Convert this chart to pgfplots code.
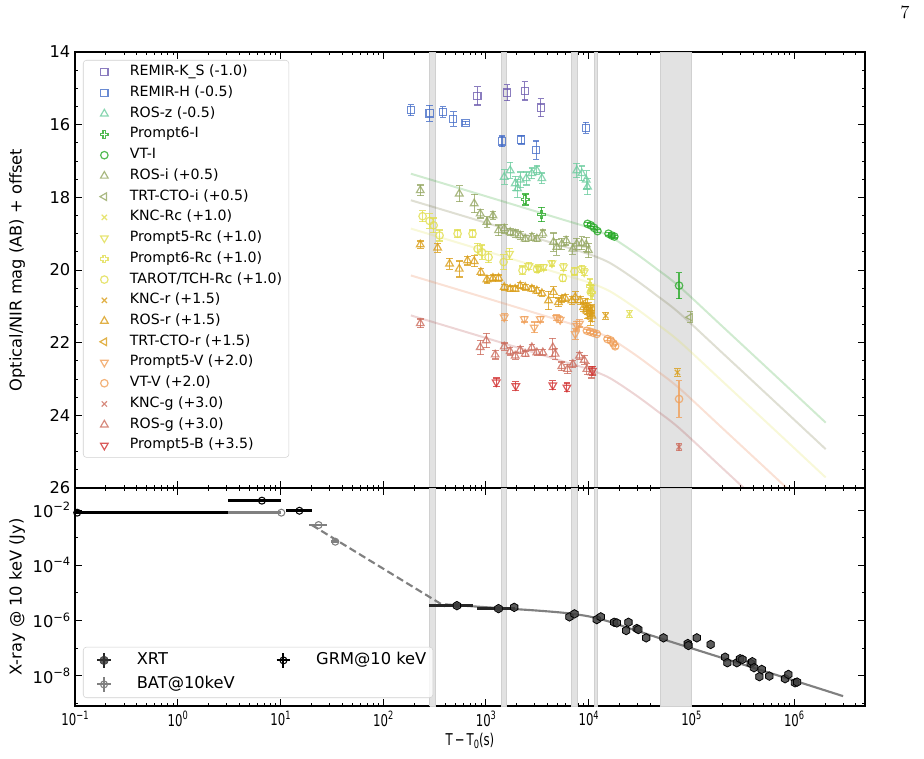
\documentclass[border=0pt]{standalone}
\usepackage{fontspec}
\setsansfont{DejaVu Sans}
\usepackage{pgfplots}
\pgfplotsset{compat=1.18}

\definecolor{cKS}{RGB}{110,92,175}
\definecolor{cH}{RGB}{70,110,200}
\definecolor{cZ}{RGB}{110,205,160}
\definecolor{cI}{RGB}{40,170,40}
\definecolor{cOl}{RGB}{150,168,100}
\definecolor{cRc}{RGB}{225,222,80}
\definecolor{cR}{RGB}{218,158,25}
\definecolor{cV}{RGB}{240,160,90}
\definecolor{cG}{RGB}{205,110,95}
\definecolor{cB}{RGB}{210,50,50}
\definecolor{band}{RGB}{226,226,226}
\definecolor{bandedge}{RGB}{208,208,208}
\definecolor{mG}{RGB}{60,170,60}
\definecolor{mO}{RGB}{120,120,70}
\definecolor{mY}{RGB}{225,225,90}
\definecolor{mR}{RGB}{235,130,80}
\definecolor{mB}{RGB}{180,80,80}

\pgfdeclareplotmark{hexa}{%
 \pgfpathmoveto{\pgfqpointpolar{90}{\pgfplotmarksize}}%
 \pgfpathlineto{\pgfqpointpolar{150}{\pgfplotmarksize}}%
 \pgfpathlineto{\pgfqpointpolar{210}{\pgfplotmarksize}}%
 \pgfpathlineto{\pgfqpointpolar{270}{\pgfplotmarksize}}%
 \pgfpathlineto{\pgfqpointpolar{330}{\pgfplotmarksize}}%
 \pgfpathlineto{\pgfqpointpolar{30}{\pgfplotmarksize}}%
 \pgfpathclose\pgfusepathqfillstroke}
\pgfdeclareplotmark{Pout}{%
 \pgfpathmoveto{\pgfqpoint{0.35\pgfplotmarksize}{\pgfplotmarksize}}%
 \pgfpathlineto{\pgfqpoint{-0.35\pgfplotmarksize}{\pgfplotmarksize}}%
 \pgfpathlineto{\pgfqpoint{-0.35\pgfplotmarksize}{0.35\pgfplotmarksize}}%
 \pgfpathlineto{\pgfqpoint{-\pgfplotmarksize}{0.35\pgfplotmarksize}}%
 \pgfpathlineto{\pgfqpoint{-\pgfplotmarksize}{-0.35\pgfplotmarksize}}%
 \pgfpathlineto{\pgfqpoint{-0.35\pgfplotmarksize}{-0.35\pgfplotmarksize}}%
 \pgfpathlineto{\pgfqpoint{-0.35\pgfplotmarksize}{-\pgfplotmarksize}}%
 \pgfpathlineto{\pgfqpoint{0.35\pgfplotmarksize}{-\pgfplotmarksize}}%
 \pgfpathlineto{\pgfqpoint{0.35\pgfplotmarksize}{-0.35\pgfplotmarksize}}%
 \pgfpathlineto{\pgfqpoint{\pgfplotmarksize}{-0.35\pgfplotmarksize}}%
 \pgfpathlineto{\pgfqpoint{\pgfplotmarksize}{0.35\pgfplotmarksize}}%
 \pgfpathlineto{\pgfqpoint{0.35\pgfplotmarksize}{0.35\pgfplotmarksize}}%
 \pgfpathclose\pgfusepathqstroke}

\newcommand{\tp}[1]{10\raisebox{0.42em}{\fontsize{8.6}{9}\selectfont #1}}
\newcommand{\lblfont}{\sffamily\fontsize{12.2}{14}\selectfont}

\pgfplotsset{
 ser/.style={only marks, color=#1, mark size=2.8pt, line width=0.9pt, opacity=0.8,
   error bars/y dir=both, error bars/y explicit,
   error bars/error bar style={line width=0.9pt, solid},
   error bars/error mark options={rotate=90, mark size=2.5pt, line width=0.9pt}},
 mdl/.style={no marks, line width=1.5pt, opacity=0.24, color=#1, forget plot, smooth},
 bnd/.style={fill=band, draw=bandedge, line width=0.6pt, forget plot, no marks},
}

\begin{document}
\begin{tikzpicture}[font=\sffamily]
\path[use as bounding box] (0,0) rectangle (693pt,568.5pt);
\node[font=\rmfamily\fontsize{14}{16}\selectfont] at (678.75pt,559.5pt) {7};

% ---------------- top panel ----------------
\begin{axis}[at={(56.25pt,202.5pt)}, anchor=south west,
 scale only axis, width=592.5pt, height=327pt,
 xmode=log, xmin=0.1, xmax=4.9e6,
 xtick={1e-1,1,10,100,1000,1e4,1e5,1e6},
 minor xtick={0.2,0.3,0.4,0.5,0.6,0.7,0.8,0.9,2,3,4,5,6,7,8,9,20,30,40,50,60,70,80,90,200,300,400,500,600,700,800,900,2000,3000,4000,5000,6000,7000,8000,9000,2e4,3e4,4e4,5e4,6e4,7e4,8e4,9e4,2e5,3e5,4e5,5e5,6e5,7e5,8e5,9e5,2e6,3e6,4e6},
 tick pos=both, tick align=inside,
 major tick length=4.9pt, minor tick length=2.5pt,
 every tick/.style={black, line width=0.7pt},
 axis line style={line width=0.9pt},
 /pgf/number format/assume math mode=true,
 tick label style={font=\lblfont},
 label style={font=\lblfont},
 legend cell align=left,
 ymin=14, ymax=26, y dir=reverse,
 ytick={14,16,18,20,22,24,26}, minor y tick num=3,
 xticklabel=\empty,
 ylabel={Optical/NIR mag (AB) + offset},
 ylabel style={at={(axis description cs:-0.0734,0.5)}, anchor=center},
 legend image code/.code={\path (0cm,0cm) (0.8cm,0cm); \draw[#1] plot coordinates {(0.4cm,0cm)};},
 legend style={at={(0.0101,0.9817)}, anchor=north west, font=\sffamily\fontsize{10.6}{12}\selectfont,
   draw=black!18, rounded corners=2.5pt, fill=white, fill opacity=0.8, text opacity=1,
   inner xsep=4pt, inner ysep=3pt, row sep=3.55pt,
   nodes={inner sep=1pt, text height=7.6pt, text depth=2.4pt},
   /tikz/every odd column/.append style={column sep=6.3pt}},
]
% shaded intervals
\addplot[bnd] coordinates {(283,14) (322,14) (322,26) (283,26) (283,14)};
\addplot[bnd] coordinates {(1410,14) (1600,14) (1600,26) (1410,26) (1410,14)};
\addplot[bnd] coordinates {(6750,14) (7800,14) (7800,26) (6750,26) (6750,14)};
\addplot[bnd] coordinates {(11300,14) (12100,14) (12100,26) (11300,26) (11300,14)};
\addplot[bnd] coordinates {(5e4,14) (1e5,14) (1e5,26) (5e4,26) (5e4,14)};
% model curves
\addplot[mdl=mG] coordinates {(186,17.35) (1000,17.97) (5000,18.57) (1e4,18.83) (1.5e4,19.03) (2e4,19.24) (3e4,19.58) (4.5e4,19.95) (7.6e4,20.45) (2e5,21.55) (7e5,22.98) (2.03e6,24.20)};
\addplot[mdl=mO] coordinates {(186,18.08) (1000,18.70) (5000,19.30) (1e4,19.56) (1.5e4,19.76) (2e4,19.97) (3e4,20.31) (4.5e4,20.68) (7.6e4,21.18) (2e5,22.28) (7e5,23.71) (2.03e6,24.93)};
\addplot[mdl=mY] coordinates {(186,18.86) (1000,19.48) (5000,20.08) (1e4,20.34) (1.5e4,20.54) (2e4,20.75) (3e4,21.09) (4.5e4,21.46) (7.6e4,21.96) (2e5,23.06) (7e5,24.49) (2.03e6,25.71)};
\addplot[mdl=mR] coordinates {(186,20.15) (1000,20.77) (5000,21.37) (1e4,21.63) (1.5e4,21.83) (2e4,22.04) (3e4,22.38) (4.5e4,22.75) (7.6e4,23.25) (2e5,24.35) (7e5,25.78) (2.03e6,27.00)};
\addplot[mdl=mB] coordinates {(186,21.25) (1000,21.87) (5000,22.47) (1e4,22.73) (1.5e4,22.93) (2e4,23.14) (3e4,23.48) (4.5e4,23.85) (7.6e4,24.35) (2e5,25.45) (7e5,26.88) (2.03e6,28.10)};

% data
\addplot[ser=cKS, mark=square, mark size=2.7pt] coordinates {(828,15.21) +- (0,0.25) (1610,15.12) +- (0,0.22) (2393,15.07) +- (0,0.25) (3428,15.53) +- (0,0.25)};
\addlegendentry{REMIR-K\_S (-1.0)}
\addplot[ser=cH, mark=square, mark size=2.7pt] coordinates {(186,15.60) +- (0,0.15) (283,15.69) +- (0,0.22) (381,15.65) +- (0,0.15) (481,15.84) +- (0,0.2) (634,15.95) +- (0,0.04) (1432,16.46) +- (0,0.15) (2205,16.41) +- (0,0.12) (3083,16.70) +- (0,0.25) (9397,16.09) +- (0,0.15)};
\addlegendentry{REMIR-H (-0.5)}
\addplot[ser=cZ, mark=triangle, mark size=3.3pt] coordinates {(1507,17.44) +- (0,0.2) (1722,17.26) +- (0,0.22) (1927,17.62) +- (0,0.2) (2032,17.76) +- (0,0.25) (2158,17.52) +- (0,0.22) (2466,17.48) +- (0,0.18) (2800,17.34) +- (0,0.15) (3133,17.26) +- (0,0.12) (3507,17.48) +- (0,0.15) (7674,17.26) +- (0,0.2) (8590,17.34) +- (0,0.2) (9461,17.52) +- (0,0.25) (9750,17.71) +- (0,0.22)};
\addlegendentry{ROS-z (-0.5)}
\addplot[ser=cI, mark=Pout] coordinates {(2411,18.06) +- (0,0.15) (3474,18.47) +- (0,0.2)};
\addlegendentry{Prompt6-I}
\addplot[ser=cI, mark=o] coordinates {(9750,18.73) +- (0,0.04) (10500,18.77) +- (0,0.04) (11300,18.84) +- (0,0.04) (12200,18.93) +- (0,0.04) (15600,19.00) +- (0,0.04) (16800,19.05) +- (0,0.04) (17800,19.08) +- (0,0.04) (75900,20.43) +- (0,0.36)};
\addlegendentry{VT-I}
\addplot[ser=cOl, mark=triangle, mark size=3.3pt] coordinates {(229.6,17.81) +- (0,0.15) (550,17.90) +- (0,0.22) (769,18.17) +- (0,0.25) (880,18.45) +- (0,0.12) (1023,18.68) +- (0,0.15) (1170,18.50) +- (0,0.1) (1328,18.91) +- (0,0.15) (1508,18.86) +- (0,0.12) (1723,18.96) +- (0,0.1) (1927,19.00) +- (0,0.1) (2158,19.05) +- (0,0.1) (2412,19.14) +- (0,0.08) (2800,19.09) +- (0,0.1) (3133,19.14) +- (0,0.08) (3583,19.00) +- (0,0.1) (4545,19.23) +- (0,0.25) (4900,19.37) +- (0,0.22) (5480,19.28) +- (0,0.15) (6040,19.19) +- (0,0.12) (7015,19.42) +- (0,0.15) (7670,19.28) +- (0,0.15) (8590,19.26) +- (0,0.18) (9460,19.30) +- (0,0.2) (9950,19.46) +- (0,0.2)};
\addlegendentry{ROS-i (+0.5)}
\addplot[ser=cOl, mark=triangle, mark size=3.3pt, mark options={rotate=90}] coordinates {(97300,21.30) +- (0,0.15)};
\addlegendentry{TRT-CTO-i (+0.5)}
\addplot[ser=cRc, mark=x] coordinates {(24900,21.21) +- (0,0.1)};
\addlegendentry{KNC-Rc (+1.0)}
\addplot[ser=cRc, mark=triangle, mark size=3.3pt, mark options={rotate=180}] coordinates {(1698,19.55) +- (0,0.15) (2620,19.89) +- (0,0.1) (3250,19.95) +- (0,0.1) (3640,19.92) +- (0,0.08) (4390,19.81) +- (0,0.08) (5690,19.92) +- (0,0.1) (8590,19.97) +- (0,0.1) (9050,20.06) +- (0,0.1)};
\addlegendentry{Prompt5-Rc (+1.0)}
\addplot[ser=cRc, mark=Pout] coordinates {(10300,20.45) +- (0,0.2) (10800,20.62) +- (0,0.2)};
\addlegendentry{Prompt6-Rc (+1.0)}
\addplot[ser=cRc, mark=o] coordinates {(242,18.52) +- (0,0.15) (283,18.65) +- (0,0.2) (310,18.77) +- (0,0.2) (354,19.05) +- (0,0.15) (530,19.00) +- (0,0.1) (741,19.00) +- (0,0.1) (830,19.42) +- (0,0.15) (915,19.51) +- (0,0.2) (1062,19.65) +- (0,0.15) (1487,19.78) +- (0,0.2) (2270,20.01) +- (0,0.12) (3140,19.98) +- (0,0.08) (5610,20.22) +- (0,0.1) (7280,20.04) +- (0,0.1) (10500,20.61) +- (0,0.2)};
\addlegendentry{TAROT/TCH-Rc (+1.0)}
\addplot[ser=cR, mark=x] coordinates {(14690,21.26) +- (0,0.1) (73100,22.82) +- (0,0.1)};
\addlegendentry{KNC-r (+1.5)}
\addplot[ser=cR, mark=triangle, mark size=3.3pt] coordinates {(229.6,19.30) +- (0,0.1) (339,19.39) +- (0,0.12) (443,19.83) +- (0,0.15) (550,19.97) +- (0,0.22) (662,19.74) +- (0,0.12) (769,19.76) +- (0,0.15) (893,20.06) +- (0,0.1) (1023,20.26) +- (0,0.1) (1170,20.22) +- (0,0.08) (1328,20.22) +- (0,0.08) (1508,20.47) +- (0,0.08) (1722,20.52) +- (0,0.08) (1927,20.52) +- (0,0.08) (2158,20.43) +- (0,0.08) (2412,20.47) +- (0,0.08) (2800,20.52) +- (0,0.08) (3133,20.57) +- (0,0.08) (3507,20.64) +- (0,0.08) (4070,20.84) +- (0,0.25) (4545,20.61) +- (0,0.15) (5085,20.89) +- (0,0.12) (5480,20.80) +- (0,0.1) (5910,20.77) +- (0,0.1) (6865,20.84) +- (0,0.1) (7400,20.75) +- (0,0.15) (8280,20.84) +- (0,0.12) (8910,21.03) +- (0,0.12) (9610,21.07) +- (0,0.15) (10350,21.12) +- (0,0.15) (10740,21.26) +- (0,0.15)};
\addlegendentry{ROS-r (+1.5)}
\addplot[ser=cR, mark=triangle, mark size=3.3pt, mark options={rotate=90}] coordinates {(9250,20.90) +- (0,0.12) (9700,21.18) +- (0,0.15) (9950,21.05) +- (0,0.15) (10350,21.32) +- (0,0.2) (10800,21.10) +- (0,0.15)};
\addlegendentry{TRT-CTO-r (+1.5)}
\addplot[ser=cV, mark=triangle, mark size=3.3pt, mark options={rotate=180}] coordinates {(1508,21.30) +- (0,0.1) (2360,21.35) +- (0,0.08) (2950,21.58) +- (0,0.15) (3375,21.35) +- (0,0.08) (4900,21.32) +- (0,0.08) (5280,21.37) +- (0,0.08) (7400,21.76) +- (0,0.15) (7670,21.53) +- (0,0.12) (8150,21.47) +- (0,0.1)};
\addlegendentry{Prompt5-V (+2.0)}
\addplot[ser=cV, mark=o] coordinates {(9610,21.67) +- (0,0.04) (10350,21.70) +- (0,0.04) (11140,21.73) +- (0,0.04) (12020,21.76) +- (0,0.04) (15240,21.90) +- (0,0.05) (16440,21.94) +- (0,0.05) (17420,22.02) +- (0,0.05) (18110,22.10) +- (0,0.05) (75900,23.55) +- (0,0.5)};
\addlegendentry{VT-V (+2.0)}
\addplot[ser=cG, mark=x] coordinates {(75900,24.87) +- (0,0.1)};
\addlegendentry{KNC-g (+3.0)}
\addplot[ser=cG, mark=triangle, mark size=3.3pt] coordinates {(229.6,21.47) +- (0,0.12) (880,22.13) +- (0,0.2) (1007,21.94) +- (0,0.2) (1231,22.33) +- (0,0.12) (1508,22.11) +- (0,0.1) (1722,22.24) +- (0,0.1) (1927,22.36) +- (0,0.1) (2158,22.20) +- (0,0.1) (2412,22.31) +- (0,0.08) (2800,22.13) +- (0,0.08) (3133,22.27) +- (0,0.08) (3583,22.27) +- (0,0.08) (4480,22.13) +- (0,0.25) (4720,22.31) +- (0,0.15) (5480,22.65) +- (0,0.12) (6220,22.73) +- (0,0.12) (7015,22.59) +- (0,0.1) (8150,22.36) +- (0,0.1) (9050,22.48) +- (0,0.12) (9610,22.73) +- (0,0.15) (10740,22.82) +- (0,0.15)};
\addlegendentry{ROS-g (+3.0)}
\addplot[ser=cB, mark=triangle, mark size=3.3pt, mark options={rotate=180}] coordinates {(1260,23.09) +- (0,0.12) (1955,23.19) +- (0,0.12) (4480,23.17) +- (0,0.12) (6140,23.23) +- (0,0.12) (10890,22.77) +- (0,0.12)};
\addlegendentry{Prompt5-B (+3.5)}
\end{axis}

% ---------------- bottom panel ----------------
\begin{axis}[at={(56.25pt,39pt)}, anchor=south west,
 scale only axis, width=592.5pt, height=163.5pt,
 xmode=log, ymode=log, xmin=0.1, xmax=4.9e6, ymin=7.9e-10, ymax=0.0627,
 xtick={1e-1,1,10,100,1000,1e4,1e5,1e6},
 minor xtick={0.2,0.3,0.4,0.5,0.6,0.7,0.8,0.9,2,3,4,5,6,7,8,9,20,30,40,50,60,70,80,90,200,300,400,500,600,700,800,900,2000,3000,4000,5000,6000,7000,8000,9000,2e4,3e4,4e4,5e4,6e4,7e4,8e4,9e4,2e5,3e5,4e5,5e5,6e5,7e5,8e5,9e5,2e6,3e6,4e6},
 tick pos=both, tick align=inside,
 major tick length=4.9pt, minor tick length=2.5pt,
 every tick/.style={black, line width=0.7pt},
 axis line style={line width=0.9pt},
 tick label style={font=\lblfont},
 label style={font=\lblfont},
 legend cell align=left,
 xticklabels={\tp{−1},\tp{0},\tp{1},\tp{2},\tp{3},\tp{4},\tp{5},\tp{6}},
 ytick={1e-8,1e-6,1e-4,1e-2}, yticklabels={\tp{−8},\tp{−6},\tp{−4},\tp{−2}},
 minor ytick={1e-9,1e-7,1e-5,1e-3},
 xticklabel style={xscale=0.72},
 xlabel={T\,−\,T\raisebox{-0.22em}{\fontsize{8.6}{9}\selectfont 0}(s)},
 xlabel style={at={(axis description cs:0.5,-0.16)}, anchor=center, xscale=0.72},
 ylabel={X-ray @ 10 keV (Jy)},
 ylabel style={at={(axis description cs:-0.0734,0.5)}, anchor=center},
 legend columns=2,
 legend style={at={(0.0101,0.0367)}, anchor=south west, font=\lblfont,
   draw=black!18, rounded corners=2.5pt, fill=white, fill opacity=0.8, text opacity=1,
   inner xsep=4pt, inner ysep=3pt, row sep=4pt,
   nodes={inner sep=1pt, text height=9pt, text depth=3pt},
   /tikz/every odd column/.append style={column sep=12pt},
   /tikz/every even column/.append style={column sep=24pt}},
]
\addplot[bnd] coordinates {(283,7.9e-10) (322,7.9e-10) (322,0.0627) (283,0.0627) (283,7.9e-10)};
\addplot[bnd] coordinates {(1410,7.9e-10) (1600,7.9e-10) (1600,0.0627) (1410,0.0627) (1410,7.9e-10)};
\addplot[bnd] coordinates {(6750,7.9e-10) (7800,7.9e-10) (7800,0.0627) (6750,0.0627) (6750,7.9e-10)};
\addplot[bnd] coordinates {(11300,7.9e-10) (12100,7.9e-10) (12100,0.0627) (11300,0.0627) (11300,7.9e-10)};
\addplot[bnd] coordinates {(5e4,7.9e-10) (1e5,7.9e-10) (1e5,0.0627) (5e4,0.0627) (5e4,7.9e-10)};
% BAT
\addplot[forget plot, only marks, color=black!50, mark=o, mark size=2.6pt, line width=0.8pt,
  error bars/x dir=both, error bars/x explicit, error bars/error mark=none,
  error bars/error bar style={line width=2pt, black!50}]
  coordinates {(10.2,8.0e-3) -= (10.15,0) += (0,0) (23.5,2.85e-3) -= (4.7,0) += (5,0) (34.2,7.1e-4) -= (3,0) += (3,0)};
\addplot[forget plot, no marks, color=black!50, line width=1.6pt, dash pattern=on 5.5pt off 2.8pt]
  coordinates {(20.2,2.85e-3) (400,3.2e-6)};
% XRT model
\addplot[forget plot, no marks, color=black!50, line width=1.6pt, smooth]
  coordinates {(400,3.8e-6) (1000,3.0e-6) (3000,2.3e-6) (6000,1.85e-6) (1e4,1.4e-6) (1.5e4,9.6e-7) (2e4,6.8e-7) (4e4,2.9e-7) (1e5,9.8e-8) (1e6,6.6e-9) (3e6,1.8e-9)};
% GRM
\addplot[forget plot, only marks, color=black, mark=o, mark size=2.6pt, line width=0.8pt,
  error bars/x dir=both, error bars/x explicit, error bars/error mark=none,
  error bars/error bar style={line width=2pt, black}]
  coordinates {(0.105,8.0e-3) -= (0.06,0) += (3.0,0) (6.6,0.0218) -= (3.5,0) += (3.6,0) (15.3,9.4e-3) -= (4.1,0) += (4.9,0)};
% XRT early bars
\addplot[forget plot, only marks, color=black!85, mark=none,
  error bars/x dir=both, error bars/x explicit, error bars/error mark=none,
  error bars/error bar style={line width=2pt, black!85}]
  coordinates {(522,3.42e-6) -= (245,0) += (235,0) (1327,2.67e-6) -= (504,0) += (600,0)};
% XRT points
\addplot[forget plot, only marks, mark=hexa, mark size=3.2pt, mark options={draw=black, fill=black!75, fill opacity=0.85, line width=0.6pt}]
  coordinates {(522,3.42e-6) (1327,2.67e-6) (1885,2.97e-6) (6500,1.34e-6) (7280,1.72e-6) (12000,1.07e-6) (13130,1.34e-6) (17700,8.55e-7) (18800,8.1e-7) (24400,8.55e-7) (23170,4.28e-7) (29400,5.06e-7) (30500,4.67e-7) (36300,2.33e-7) (53500,2.33e-7) (92300,1.45e-7) (93600,1.23e-7) (113000,2.33e-7) (154000,1.34e-7) (213000,4.65e-8) (224000,2.92e-8) (277000,2.92e-8) (298000,4.07e-8) (314000,3.85e-8) (378000,2.76e-8) (392000,3.18e-8) (407000,1.93e-8) (459000,9.1e-9) (484000,1.67e-8) (574000,9.6e-9) (817000,7.7e-9) (880000,1.1e-8) (1020000,5.5e-9) (1070000,5.8e-9)};
% legend
\addlegendimage{legend image code/.code={\path (0cm,0cm) (0.8cm,0cm); \draw[black!85, line width=1.5pt] (0.22cm,0cm)--(0.58cm,0cm) (0.4cm,-0.2cm)--(0.4cm,0.2cm); \fill[black!80] (0.4cm,0cm) circle (3.2pt);}}
\addlegendentry{XRT}
\addlegendimage{legend image code/.code={\path (0cm,0cm) (0.8cm,0cm); \draw[black, line width=1.5pt] (0.22cm,0cm)--(0.58cm,0cm) (0.4cm,-0.2cm)--(0.4cm,0.2cm); \draw[black, line width=0.8pt] (0.4cm,0cm) circle (2.6pt);}}
\addlegendentry{GRM@10 keV}
\addlegendimage{legend image code/.code={\path (0cm,0cm) (0.8cm,0cm); \draw[black!50, line width=1.5pt] (0.22cm,0cm)--(0.58cm,0cm) (0.4cm,-0.2cm)--(0.4cm,0.2cm); \draw[black!50, line width=0.8pt] (0.4cm,0cm) circle (2.6pt);}}
\addlegendentry{BAT@10keV}
\end{axis}
\end{tikzpicture}
\end{document}
